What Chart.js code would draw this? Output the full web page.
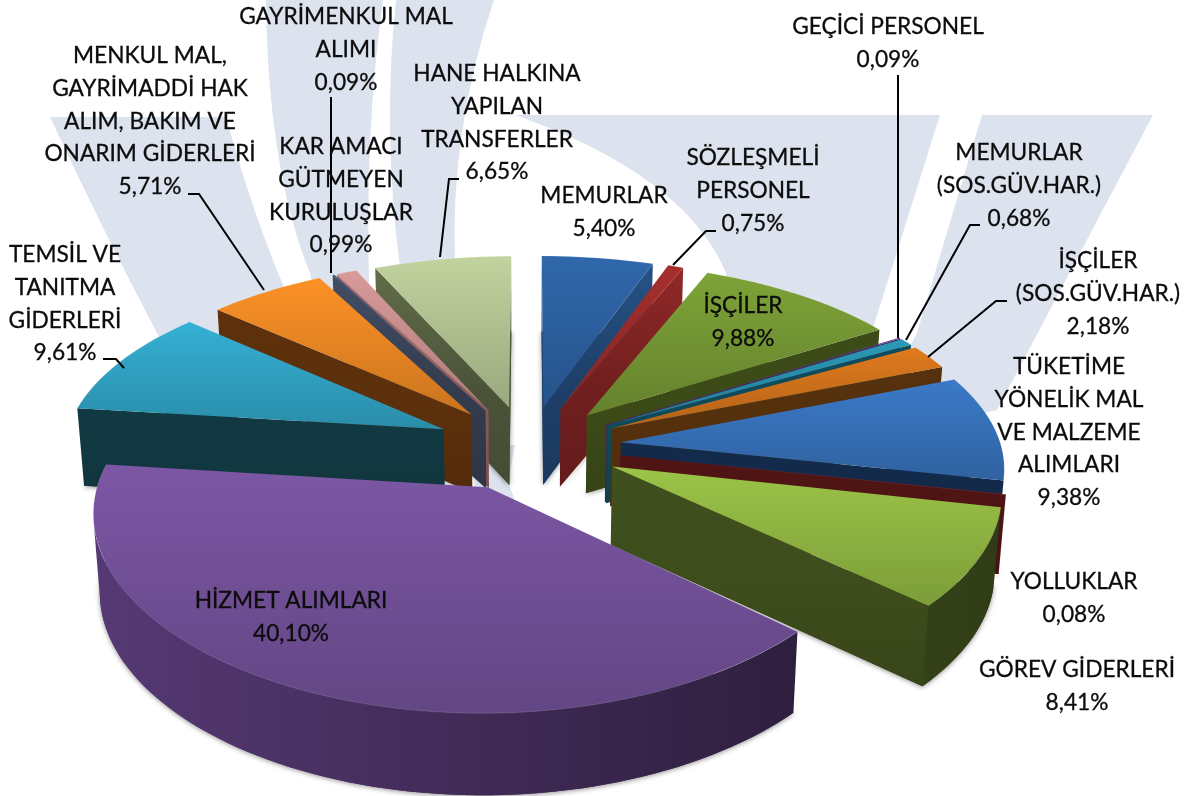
<!DOCTYPE html>
<html>
<head>
<meta charset="utf-8">
<script src="https://cdn.jsdelivr.net/npm/chart.js@4"></script>
<style>
  html, body { margin: 0; background: #fff; }
  #pie { display: block; }
</style>
</head>
<body>
<canvas id="pie" width="1192" height="796"></canvas>
<script>
const categories = [
  ['MEMURLAR'],
  ['SÖZLEŞMELİ', 'PERSONEL'],
  ['İŞÇİLER'],
  ['GEÇİCİ PERSONEL'],
  ['MEMURLAR', '(SOS.GÜV.HAR.)'],
  ['İŞÇİLER', '(SOS.GÜV.HAR.)'],
  ['TÜKETİME', 'YÖNELİK MAL', 'VE MALZEME', 'ALIMLARI'],
  ['YOLLUKLAR'],
  ['GÖREV GİDERLERİ'],
  ['HİZMET ALIMLARI'],
  ['TEMSİL VE', 'TANITMA', 'GİDERLERİ'],
  ['MENKUL MAL,', 'GAYRİMADDİ HAK', 'ALIM, BAKIM VE', 'ONARIM GİDERLERİ'],
  ['GAYRİMENKUL MAL', 'ALIMI'],
  ['KAR AMACI', 'GÜTMEYEN', 'KURULUŞLAR'],
  ['HANE HALKINA', 'YAPILAN', 'TRANSFERLER']
];
const shares = [5.40, 0.75, 9.88, 0.09, 0.68, 2.18, 9.38, 0.08, 8.41, 40.10, 9.61, 5.71, 0.09, 0.99, 6.65];

const topColors = ['#3068ac', '#a52f2d', '#7ea338', '#5b3a8c', '#2b9ab8', '#e07a1e', '#3b7ac8', '#9c2424',
  '#9bc447', '#7c57a5', '#35b0d4', '#fc9126', '#3e4f77', '#d99a9a', '#c1d39e'];
const wallColors = ['#1e3f68', '#701f1f', '#3c4a18', '#3a2a55', '#0f4a5a', '#54300d', '#12294a', '#4e1414',
  '#3e4d1c', '#4d3368', '#113840', '#5c300c', '#333c4e', '#8a5a5a', '#4b5439'];

// label centre x, y of first line
const labelPos = [
  [604, 196], [753, 158], [743, 306], [888, 27], [1019, 153], [1098, 261], [1069, 367], [1074, 582],
  [1077, 670], [291, 601], [65, 255], [150, 56], [346, 17], [341, 147], [497, 74]
];
const leaders = [
  [[716, 231], [706, 231], [673, 265]],
  [[898, 75], [898, 338]],
  [[980, 225], [970, 225], [906, 340]],
  [[1007, 301], [996, 301], [928, 357]],
  [[103, 359], [116, 359], [124, 368]],
  [[188, 194], [199, 194], [264, 290]],
  [[331, 97], [331, 273]],
  [[459, 179], [449, 179], [440, 257]]
];

// pale watermark behind the pie
const bands = [
  [[50, 117], [226, 117], [250, 205, 281, 280], [330, 400], [200, 420], [157, 333], [100, 225, 50, 117]],
  [[266, 0], [383, 0], [365, 130, 369, 280], [370, 400], [340, 400], [310, 273], [268, 170, 266, 0]],
  [[396, 0], [494, 0], [450, 130, 455, 262], [455, 400], [420, 400], [400, 268], [382, 130, 396, 0]],
  [[515, 115], [940, 115], [873, 328], [726, 330], [726, 273], [685, 175, 515, 115]],
  [[982, 115], [1153, 115], [997, 410], [860, 440], [917, 333], [982, 115]],
  [[470, 445], [515, 445], [508, 482], [522, 520], [475, 490], [470, 445]]
];

const view = { cx: 528, cy: 445.5, a: 380, b: 178, px: 0.12, pFront: 0.15, pBack: 0.12, depth: 78, spreadX: 1.1, spreadFront: 1.12 };

function project(x, y, z) {
  const wx = 1 - view.px * y;
  const wy = 1 - (y > 0 ? view.pFront : view.pBack) * y;
  let sx = view.cx + view.a * x / wx;
  let sy = view.cy + view.b * y / wy;
  if (z) {
    sx = view.cx + (sx - view.cx) * 0.985;
    sy += view.depth / Math.pow(wy, 0.25);
  }
  return [sx, sy];
}

function shade(hex, f) {
  const n = parseInt(hex.slice(1), 16);
  const c = [n >> 16, (n >> 8) & 255, n & 255].map(v => Math.min(255, Math.round(v * f)));
  return 'rgb(' + c.join(',') + ')';
}

function trace(ctx, pts) {
  ctx.beginPath();
  pts.forEach((p, i) => i ? ctx.lineTo(p[0], p[1]) : ctx.moveTo(p[0], p[1]));
  ctx.closePath();
}

function area(pts) {
  let s = 0;
  pts.forEach((p, i) => {
    const q = pts[(i + 1) % pts.length];
    s += p[0] * q[1] - q[0] * p[1];
  });
  return s;
}

function drawSlice(ctx, arc, i) {
  const { startAngle, endAngle, outerRadius } = arc.getProps(['startAngle', 'endAngle', 'outerRadius'], true);
  const mid = (startAngle + endAngle) / 2;
  const d = arc.options.offset / outerRadius;
  const ox = Math.cos(mid) * d * view.spreadX;
  const oy = Math.sin(mid) * d * (Math.sin(mid) > 0 ? view.spreadFront : 1);
  const steps = Math.max(2, Math.ceil((endAngle - startAngle) / 0.03));
  const rim = [];
  for (let s = 0; s <= steps; s++) {
    const a = startAngle + (endAngle - startAngle) * s / steps;
    rim.push([ox + Math.cos(a), oy + Math.sin(a)]);
  }
  const outline = [[ox, oy]].concat(rim);
  const top = outline.map(p => project(p[0], p[1], 0));
  const low = outline.map(p => project(p[0], p[1], 1));
  const xs = top.map(p => p[0]), ys = top.map(p => p[1]);
  const minX = Math.min(...xs), maxX = Math.max(...xs), minY = Math.min(...ys), maxY = Math.max(...ys);

  const rimWall = ctx.createLinearGradient(minX, 0, maxX, 0);
  rimWall.addColorStop(0, shade(wallColors[i], 1.12));
  rimWall.addColorStop(1, shade(wallColors[i], 1 - 0.4 * Math.min(1, (maxX - minX) / 700)));

  // soft shadow under the block
  ctx.save();
  ctx.shadowColor = 'rgba(0,0,0,0.45)';
  ctx.shadowBlur = 5;
  ctx.shadowOffsetY = 1;
  ctx.fillStyle = wallColors[i];
  trace(ctx, low);
  ctx.fill();
  ctx.restore();

  // radial walls, back faces skipped
  const n = outline.length;
  const glossy = Math.abs(ox) < 0.12;
  [[0, 1], [n - 1, 0]].forEach(([k, j]) => {
    const quad = [top[k], top[j], low[j], low[k]];
    if (area(quad) >= 0) return;
    const g = ctx.createLinearGradient(0, Math.min(top[k][1], top[j][1]), 0, Math.max(low[k][1], low[j][1]));
    g.addColorStop(0, shade(wallColors[i], glossy ? 1.3 : 1.02));
    g.addColorStop(0.55, shade(wallColors[i], 1));
    g.addColorStop(1, shade(wallColors[i], 0.9));
    ctx.fillStyle = g;
    trace(ctx, quad);
    ctx.fill();
  });

  // outer wall as one piece per visible run
  let run = [];
  const flush = () => {
    if (!run.length) return;
    const poly = run.map(k => top[k]).concat(run.slice().reverse().map(k => low[k]));
    ctx.fillStyle = rimWall;
    trace(ctx, poly);
    ctx.fill();
    run = [];
  };
  for (let k = 1; k < n - 1; k++) {
    const quad = [top[k], top[k + 1], low[k + 1], low[k]];
    if (area(quad) < 0) {
      if (!run.length) run.push(k);
      run.push(k + 1);
    } else {
      flush();
    }
  }
  flush();

  // top face
  const face = ctx.createLinearGradient(0, minY, 0, maxY);
  face.addColorStop(0, shade(topColors[i], 1));
  face.addColorStop(1, shade(topColors[i], 0.8));
  ctx.fillStyle = face;
  trace(ctx, top);
  ctx.fill();
  ctx.strokeStyle = 'rgba(255,255,255,0.13)';
  ctx.lineWidth = 1;
  ctx.beginPath();
  top.slice(1).forEach((p, k) => k ? ctx.lineTo(p[0], p[1]) : ctx.moveTo(p[0], p[1]));
  ctx.stroke();
}

const watermark = {
  id: 'watermark',
  beforeDraw(chart) {
    const ctx = chart.ctx;
    ctx.save();
    ctx.fillStyle = '#dce3ee';
    bands.forEach(b => {
      ctx.beginPath();
      b.forEach((p, i) => {
        if (i === 0) ctx.moveTo(p[0], p[1]);
        else if (p.length === 4) ctx.quadraticCurveTo(p[0], p[1], p[2], p[3]);
        else ctx.lineTo(p[0], p[1]);
      });
      ctx.closePath();
      ctx.fill();
    });
    ctx.restore();
  }
};

const pie3d = {
  id: 'pie3d',
  beforeDatasetDraw(chart, args) {
    const ctx = chart.ctx;
    const arcs = args.meta.data;
    // back to front
    const order = arcs.map((a, i) => i).sort((p, q) => {
      const m = k => (arcs[k].startAngle + arcs[k].endAngle) / 2;
      return Math.sin(m(p)) - Math.sin(m(q));
    });
    order.forEach(i => drawSlice(ctx, arcs[i], i));
    return false;
  },
  afterDatasetsDraw(chart) {
    const ctx = chart.ctx;
    ctx.save();
    ctx.strokeStyle = '#000';
    ctx.lineWidth = 2;
    leaders.forEach(l => {
      ctx.beginPath();
      l.forEach((p, i) => i ? ctx.lineTo(p[0], p[1]) : ctx.moveTo(p[0], p[1]));
      ctx.stroke();
    });
    ctx.fillStyle = '#0c0c0c';
    ctx.strokeStyle = '#0c0c0c';
    ctx.lineWidth = 0.3;
    ctx.font = '22.7px Lato';
    ctx.textAlign = 'center';
    ctx.textBaseline = 'middle';
    categories.forEach((lines, i) => {
      const text = lines.concat(shares[i].toFixed(2).replace('.', ',') + '%');
      text.forEach((t, k) => {
        ctx.fillText(t, labelPos[i][0], labelPos[i][1] + k * 32.6);
        ctx.strokeText(t, labelPos[i][0], labelPos[i][1] + k * 32.6);
      });
    });
    ctx.restore();
  }
};

new Chart(document.getElementById('pie'), {
  type: 'pie',
  data: {
    labels: categories.map(c => c.join(' ')),
    datasets: [{
      data: shares,
      backgroundColor: topColors,
      borderWidth: 0,
      offset: 80
    }]
  },
  options: {
    responsive: false,
    animation: false,
    events: [],
    plugins: { legend: { display: false }, tooltip: { enabled: false } }
  },
  plugins: [watermark, pie3d]
});
</script>
</body>
</html>
